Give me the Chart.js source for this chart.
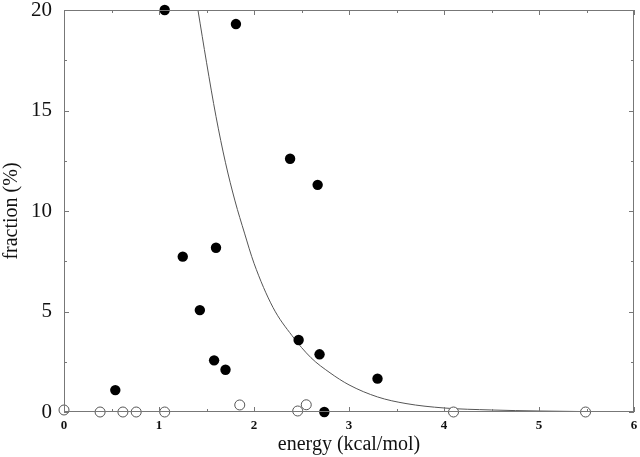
<!DOCTYPE html>
<html>
<head>
<meta charset="utf-8">
<script src="https://cdn.jsdelivr.net/npm/chart.js@4.4.1/dist/chart.umd.min.js"></script>
<style>
  html, body { margin: 0; padding: 0; background: #fff; }
  #wrap { width: 640px; height: 457px; position: relative; }
</style>
</head>
<body>
<div id="wrap"><canvas id="chart"></canvas></div>
<script>
'use strict';

/* ─── Data ──────────────────────────────────────────────── */
const filledX = [1.06, 1.81, 2.38, 2.67, 1.25, 1.60, 1.43, 1.58, 1.70, 0.54, 2.47, 2.69, 2.74, 3.30];
const filledY = [20.0, 19.3, 12.6, 11.3, 7.73, 8.17, 5.07, 2.57, 2.10, 1.09, 3.58, 2.87, 0.0, 1.66];

const openX = [0.0, 0.38, 0.62, 0.76, 1.06, 1.85, 2.46, 2.55, 4.10, 5.49];
const openY = [0.1, 0.0, 0.0, 0.0, 0.0, 0.35, 0.05, 0.36, 0.0, 0.0];

const curveX = [1.41, 1.5, 1.6, 1.7, 1.8, 1.9, 2.0, 2.2, 2.4, 2.6, 2.8, 3.0, 3.3, 3.6, 4.0, 4.5, 5.0, 5.5, 6.0];
const curveY = [20, 17.4, 14.7, 12.4, 10.5, 8.9, 7.4, 5.2, 3.8, 2.7, 1.95, 1.35, 0.75, 0.42, 0.2, 0.1, 0.05, 0.02, 0.01];

const xTicks = [0, 1, 2, 3, 4, 5, 6];
const yTicks = [0, 5, 10, 15, 20];

const SERIF = "'Liberation Serif', 'DejaVu Serif', serif";
const INK = '#111';
const FRAME = '#777';

const toPoints = (xs, ys) => xs.map((x, i) => ({ x, y: ys[i] }));

/* ─── Frame + inward ticks on all four sides ────────────── */
const framePlugin = {
  id: 'frame',
  afterDatasetsDraw(chart) {
    const { ctx, chartArea: a, scales: { x, y } } = chart;
    ctx.save();
    ctx.strokeStyle = FRAME;
    ctx.lineWidth = 1;
    ctx.strokeRect(a.left + 0.5, a.top + 0.5, a.right - a.left - 1, a.bottom - a.top - 1);
    ctx.beginPath();
    for (let v = 0; v <= 6; v += 0.5) {
      const px = Math.round(x.getPixelForValue(v)) + 0.5;
      const len = Number.isInteger(v) ? 5 : 3;
      ctx.moveTo(px, a.bottom); ctx.lineTo(px, a.bottom - len);
      ctx.moveTo(px, a.top); ctx.lineTo(px, a.top + len);
    }
    for (let v = 0; v <= 20; v += 2.5) {
      const py = Math.round(y.getPixelForValue(v)) + 0.5;
      const len = v % 5 === 0 ? 5 : 3;
      ctx.moveTo(a.left, py); ctx.lineTo(a.left + len, py);
      ctx.moveTo(a.right, py); ctx.lineTo(a.right - len, py);
    }
    ctx.stroke();
    ctx.restore();
  },
};

new Chart(document.getElementById('chart'), {
  type: 'scatter',
  data: {
    datasets: [
      {
        type: 'line',
        label: 'fit',
        data: toPoints(curveX, curveY),
        borderColor: '#555',
        borderWidth: 1,
        pointRadius: 0,
        cubicInterpolationMode: 'monotone',
        fill: false,
        order: 3,
      },
      {
        label: 'open',
        data: toPoints(openX, openY),
        pointRadius: 5,
        pointBackgroundColor: '#fff',
        pointBorderColor: '#555',
        pointBorderWidth: 1,
        clip: false,
        order: 2,
      },
      {
        label: 'filled',
        data: toPoints(filledX, filledY),
        pointRadius: 5.2,
        pointBackgroundColor: '#000',
        pointBorderColor: '#000',
        pointBorderWidth: 0,
        clip: false,
        order: 1,
      },
    ],
  },
  options: {
    responsive: true,
    maintainAspectRatio: false,
    animation: false,
    events: [],
    layout: { padding: { top: 10, right: 3, left: 0, bottom: 0 } },
    plugins: { legend: { display: false }, tooltip: { enabled: false } },
    scales: {
      x: {
        type: 'linear',
        min: 0,
        max: 6,
        afterBuildTicks: (s) => { s.ticks = xTicks.map(v => ({ value: v })); },
        afterFit: (s) => { s.height = 45; s.paddingLeft = 0; s.paddingRight = 0; },
        grid: { display: false, drawTicks: false },
        border: { display: false },
        ticks: {
          color: INK,
          padding: 6,
          font: { family: SERIF, size: 13, weight: 'bold' },
        },
        title: {
          display: true,
          text: 'energy (kcal/mol)',
          color: INK,
          padding: { top: 0, bottom: 0 },
          font: { family: SERIF, size: 20 },
        },
      },
      y: {
        type: 'linear',
        min: 0,
        max: 20,
        afterBuildTicks: (s) => { s.ticks = yTicks.map(v => ({ value: v })); },
        afterFit: (s) => { s.width = 64; s.paddingTop = 0; s.paddingBottom = 0; },
        grid: { display: false, drawTicks: false },
        border: { display: false },
        ticks: {
          color: INK,
          padding: 12,
          font: { family: SERIF, size: 21 },
        },
        title: {
          display: true,
          text: 'fraction (%)',
          color: INK,
          padding: { top: 0, bottom: 0 },
          font: { family: SERIF, size: 20 },
        },
      },
    },
  },
  plugins: [framePlugin],
});
</script>
</body>
</html>
